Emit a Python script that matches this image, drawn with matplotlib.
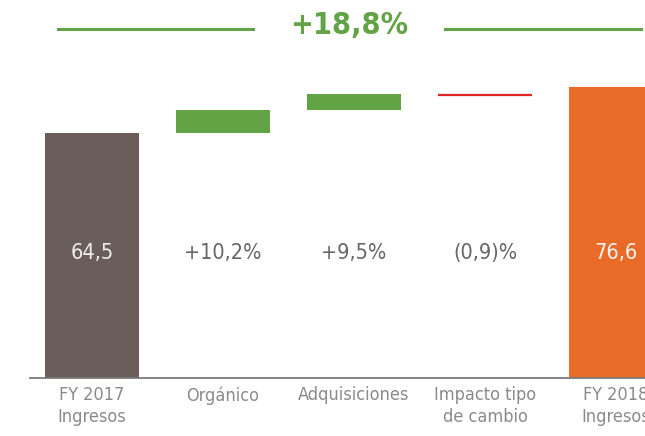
import matplotlib
matplotlib.use("Agg")
import matplotlib.pyplot as plt
from matplotlib.lines import Line2D

plt.rcParams['font.family'] = ['DejaVu Sans']
plt.rcParams['font.stretch'] = 'condensed'

# data
categories = ["FY 2017\nIngresos", "Orgánico", "Adquisiciones",
              "Impacto tipo\nde cambio", "FY 2018\nIngresos"]
bottoms = [0, 64.5, 70.6, 74.8, 0]
tops = [64.5, 70.6, 74.8, 74.6, 76.6]
value_labels = ["64,5", "+10,2%", "+9,5%", "(0,9)%", "76,6"]
total_label = "+18,8%"

colors = ["#6b5e5a", "#62a346", "#62a346", "#e02424", "#ea6a28"]
label_colors = ["#eeeeee", "#666666", "#666666", "#666666", "#f5f5f5"]

W, H = 645, 436
fig = plt.figure(figsize=(W / 100, H / 100), dpi=100)

# axes box in pixel terms
ax_left, ax_right, ax_top, ax_base = 30, 645, 20, 378
ax = fig.add_axes([ax_left / W, (H - ax_base) / H,
                   (ax_right - ax_left) / W, (ax_base - ax_top) / H])

px_per_unit = 245 / 64.5
ax.set_ylim(0, (ax_base - ax_top) / px_per_unit)
spacing = 131
ax.set_xlim((ax_left - 92) / spacing, (ax_right - 92) / spacing)

x = list(range(len(categories)))
for i in x:
    if i == 3:
        ax.hlines(tops[i], i - 0.355, i + 0.355, color=colors[i], linewidth=1.6)
    else:
        ax.bar(i, tops[i] - bottoms[i], bottom=bottoms[i], width=0.71,
               color=colors[i], linewidth=0)
    ax.text(i, 33, value_labels[i], ha='center', va='center',
            fontsize=15.5, color=label_colors[i])

ax.set_xticks(x)
ax.set_xticklabels(categories, fontsize=13, color="#8a8a8a", linespacing=1.25)
ax.tick_params(axis='x', length=0, pad=6)
ax.set_yticks([])
for side in ['top', 'left', 'right']:
    ax.spines[side].set_visible(False)
ax.spines['bottom'].set_color("#7a7a7a")
ax.spines['bottom'].set_linewidth(1.3)

# total growth header with the two green rules
green = "#62a346"
yl = 1 - 28.7 / H
fig.add_artist(Line2D([58 / W, 253 / W], [yl, yl], color=green, linewidth=2.2))
fig.add_artist(Line2D([445 / W, 641 / W], [yl, yl], color=green, linewidth=2.2))
fig.text(349 / W, 1 - 25 / H, total_label, ha='center', va='center',
         fontsize=22, fontweight='bold', color=green)

fig.savefig("out.png", dpi=100)
